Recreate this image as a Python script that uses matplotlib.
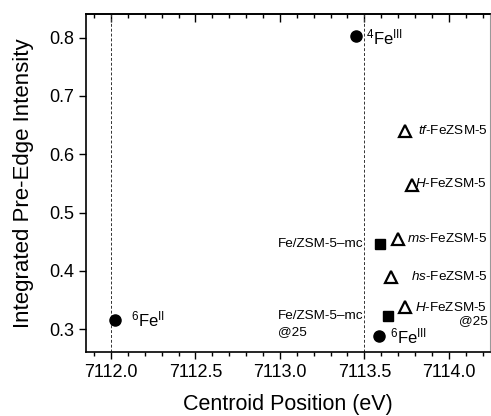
import matplotlib
matplotlib.use("Agg")
import matplotlib.pyplot as plt
from matplotlib.ticker import MultipleLocator, FormatStrFormatter

plt.rcParams['font.family'] = ['Liberation Sans', 'DejaVu Sans']
plt.rcParams['mathtext.fontset'] = 'custom'
plt.rcParams['mathtext.rm'] = 'Liberation Sans'
plt.rcParams['mathtext.it'] = 'Liberation Sans:italic'
plt.rcParams['mathtext.default'] = 'regular'

# reference compounds (filled circles)
ref_x = [7112.024, 7113.449, 7113.587]
ref_y = [0.3155, 0.8035, 0.2886]
ref_labels = [r'$^{6}$Fe$^{II}$', r'$^{4}$Fe$^{III}$', r'$^{6}$Fe$^{III}$']

# Fe/ZSM-5-mc samples (filled squares)
mc_x = [7113.590, 7113.643]
mc_y = [0.4455, 0.3228]
mc_labels = ['Fe/ZSM-5\u2013mc', 'Fe/ZSM-5\u2013mc\n@25']

# FeZSM-5 samples (open triangles)
zsm_x = [7113.740, 7113.783, 7113.700, 7113.660, 7113.740]
zsm_y = [0.6395, 0.5475, 0.4545, 0.3895, 0.3375]
zsm_labels = [r'$\mathit{tf}$-FeZSM-5', r'$\mathit{H}$-FeZSM-5', r'$\mathit{ms}$-FeZSM-5',
              r'$\mathit{hs}$-FeZSM-5', r'$\mathit{H}$-FeZSM-5' + '\n@25']
zsm_label_y = [0.640, 0.549, 0.4562, 0.3897, 0.339]

ref_lines = [7112.0, 7113.5]

fig = plt.figure(figsize=(4.91, 4.16), dpi=100)
ax = fig.add_axes([0.175, 0.154, 0.823, 0.812])

for xv in ref_lines:
    ax.axvline(xv, color='#333333', lw=0.7, ls=(0, (3, 2)), zorder=1)

ax.plot(ref_x, ref_y, 'o', color='black', ms=8, zorder=3)
ax.plot(mc_x, mc_y, 's', color='black', ms=7, zorder=3)
ax.plot(zsm_x, zsm_y, '^', mfc='white', mec='black', mew=1.6, ms=8.5, zorder=3)

# labels
ax.text(7112.12, 0.316, ref_labels[0], fontsize=12, va='center', ha='left')
ax.text(7113.51, 0.801, ref_labels[1], fontsize=12, va='center', ha='left')
ax.text(7113.652, 0.288, ref_labels[2], fontsize=12, va='center', ha='left')

ax.text(7113.496, 0.4455, mc_labels[0], fontsize=9.7, va='center', ha='right')
ax.text(7112.988, 0.332, mc_labels[1], fontsize=9.7, va='top', ha='left',
        multialignment='left', linespacing=1.45)

for i, lab in enumerate(zsm_labels):
    if '\n' in lab:
        ax.text(7114.229, zsm_label_y[i] + 0.009, lab, fontsize=9.7, va='top', ha='right',
                multialignment='right', linespacing=1.15)
    else:
        ax.text(7114.229, zsm_label_y[i], lab, fontsize=9.7, va='center', ha='right')

ax.set_xlim(7111.852, 7114.244)
ax.set_ylim(0.2607, 0.8405)
ax.xaxis.set_major_locator(MultipleLocator(0.5))
ax.xaxis.set_minor_locator(MultipleLocator(0.1))
ax.yaxis.set_major_locator(MultipleLocator(0.1))
ax.xaxis.set_major_formatter(FormatStrFormatter('%.1f'))
ax.yaxis.set_major_formatter(FormatStrFormatter('%.1f'))

ax.tick_params(axis='x', which='major', direction='out', length=5, width=1, labelsize=13)
ax.tick_params(axis='x', which='minor', direction='out', length=3, width=1)
ax.tick_params(axis='y', which='major', direction='out', length=5, width=1, labelsize=13)

top = ax.secondary_xaxis('top')
top.xaxis.set_major_locator(MultipleLocator(0.5))
top.xaxis.set_minor_locator(MultipleLocator(0.1))
top.tick_params(which='major', direction='in', length=6, width=1, labeltop=False)
top.tick_params(which='minor', direction='in', length=3, width=1)
top.spines['top'].set_linewidth(1.2)

for s in ['left', 'bottom', 'top']:
    ax.spines[s].set_linewidth(1.2)
ax.spines['right'].set_color('#999999')
ax.spines['right'].set_linewidth(0.8)

ax.set_xlabel('Centroid Position (eV)', fontsize=15.5, labelpad=9.5)
ax.set_ylabel('Integrated Pre-Edge Intensity', fontsize=16, labelpad=11)

fig.savefig('out.png', dpi=100)
